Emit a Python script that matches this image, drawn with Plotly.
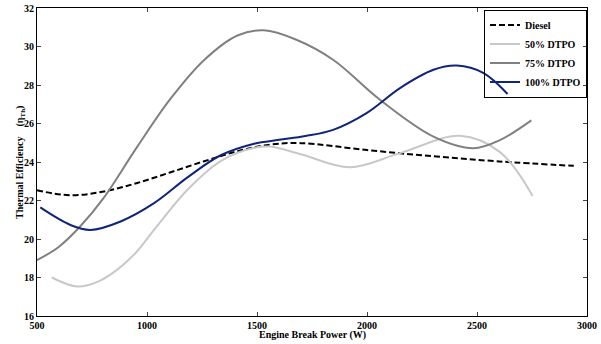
import plotly.graph_objects as go

diesel_x = [500, 652, 804, 956, 1108, 1260, 1411, 1563, 1700, 2000, 2300, 2600, 2940]
diesel_y = [22.53, 22.27, 22.47, 22.91, 23.47, 24.04, 24.56, 24.91, 24.98, 24.62, 24.3, 24.03, 23.8]

p50_x = [567, 684, 780, 865, 950, 1032, 1184, 1335, 1487, 1560, 1700, 1922, 2150, 2423, 2606, 2753]
p50_y = [18.0, 17.53, 17.8, 18.41, 19.3, 20.47, 22.56, 24.05, 24.74, 24.8, 24.4, 23.73, 24.46, 25.36, 24.5, 22.24]

p75_x = [500, 600, 700, 804, 956, 1108, 1260, 1411, 1530, 1679, 1846, 2059, 2302, 2484, 2606, 2747]
p75_y = [18.9, 19.6, 20.7, 22.15, 24.8, 27.3, 29.3, 30.57, 30.84, 30.35, 29.31, 27.23, 25.32, 24.72, 25.15, 26.16]

p100_x = [515, 652, 743, 880, 1032, 1184, 1335, 1487, 1600, 1720, 1846, 1998, 2150, 2302, 2408, 2530, 2639]
p100_y = [21.64, 20.73, 20.47, 20.91, 21.86, 23.2, 24.35, 24.95, 25.15, 25.35, 25.67, 26.54, 27.84, 28.79, 29.01, 28.62, 27.53]

x_ticks = [500, 1000, 1500, 2000, 2500, 3000]
y_ticks = [16, 18, 20, 22, 24, 26, 28, 30, 32]

FONT = "Liberation Serif, Times New Roman, serif"

fig = go.Figure()
fig.add_trace(go.Scatter(x=diesel_x, y=diesel_y, mode="lines", name="Diesel",
                         line=dict(color="black", width=2, dash="6px,3px", shape="spline", smoothing=1.0)))
fig.add_trace(go.Scatter(x=p50_x, y=p50_y, mode="lines", name="50% DTPO",
                         line=dict(color="#c8c8c8", width=2, shape="spline", smoothing=1.0)))
fig.add_trace(go.Scatter(x=p75_x, y=p75_y, mode="lines", name="75% DTPO",
                         line=dict(color="#808080", width=2, shape="spline", smoothing=1.0)))
fig.add_trace(go.Scatter(x=p100_x, y=p100_y, mode="lines", name="100% DTPO",
                         line=dict(color="#10257a", width=2, shape="spline", smoothing=1.0)))

fig.update_layout(
    width=601, height=344,
    margin=dict(l=37, r=14, t=8, b=28),
    plot_bgcolor="white", paper_bgcolor="white",
    font=dict(family=FONT, color="black", size=10),
    showlegend=True,
    legend=dict(x=1, y=0.995, xanchor="right", yanchor="top",
                bordercolor="black", borderwidth=1, bgcolor="rgba(255,255,255,0)",
                font=dict(family=FONT, size=10, weight="bold"),
                tracegroupgap=0, itemwidth=30),
    xaxis=dict(range=[500, 3000], tickvals=x_ticks, ticks="inside", ticklen=4,
               showline=True, linecolor="black", linewidth=1, mirror="ticks",
               showgrid=False, zeroline=False, automargin=False,
               tickfont=dict(family=FONT, size=10, weight="bold")),
    yaxis=dict(range=[16, 32], tickvals=y_ticks, ticks="inside", ticklen=4,
               showline=True, linecolor="black", linewidth=1, mirror="ticks",
               showgrid=False, zeroline=False, automargin=False,
               tickfont=dict(family=FONT, size=10, weight="bold")),
    annotations=[
        dict(text="Engine Break Power (W)", xref="paper", yref="paper",
             x=0.5, y=-0.062, xanchor="center", yanchor="middle", showarrow=False,
             font=dict(family=FONT, size=10, weight="bold")),
        dict(text="Thermal Efficiency    (η<sub>Th</sub>)", xref="paper", yref="paper",
             x=-0.031, y=0.5, xanchor="center", yanchor="middle", showarrow=False,
             textangle=-90, font=dict(family=FONT, size=10, weight="bold")),
    ],
)

fig.write_html("out.html", config={"displayModeBar": False},
               post_script="document.body.style.margin='0';")
